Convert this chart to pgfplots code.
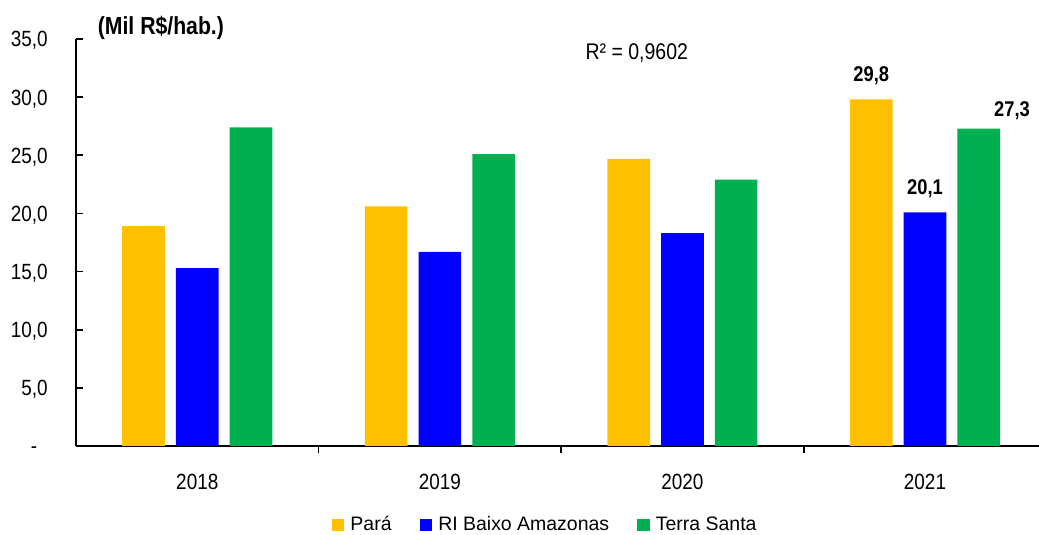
\documentclass[border=0pt]{standalone}
\usepackage{fontspec}
\setmainfont{Liberation Sans}
\newfontfamily\cf[FakeStretch=0.86]{Liberation Sans}
\usepackage{pgfplots}
\pgfplotsset{compat=1.18}
\definecolor{cpara}{HTML}{FFC000}
\definecolor{cbaixo}{HTML}{0000FF}
\definecolor{cterra}{HTML}{00B050}
\begin{document}
\fontsize{14}{17}\selectfont
\begin{tikzpicture}
\begin{axis}[
  scale only axis,
  at={(0,0)}, anchor=south west,
  width=722.25pt, height=305.25pt,
  xmin=-0.5, xmax=3.47,
  ymin=0, ymax=35,
  axis x line=bottom, axis y line=left,
  axis line style={-, line width=1.3pt, black},
  xtick={0,1,2,3},
  xticklabels={2018,2019,2020,2021},
  major x tick style={draw=none},
  minor xtick={0.5,1.5,2.5},
  minor tick length=5pt,
  minor x tick style={line width=1.3pt, black},
  xticklabel style={font=\cf\fontsize{16.5}{19}\selectfont, anchor=base, yshift=-27.75pt},
  ytick={0,5,10,15,20,25,30,35},
  yticklabels={-\phantom{0},{5,0},{10,0},{15,0},{20,0},{25,0},{30,0},{35,0}},
  yticklabel style={font=\cf\fontsize{16.5}{19}\selectfont, anchor=base east, inner sep=0pt, xshift=-21pt, yshift=-5.9pt},
  major y tick style={line width=1.3pt, black},
  tick align=inside,
  major tick length=5pt,
  ybar, bar width=32pt,
  clip=false,
  nodes near coords,
  point meta=explicit symbolic,
  nodes near coords style={font=\cf\bfseries\fontsize{16}{19}\selectfont, anchor=base, inner sep=0pt, yshift=13.5pt},
  legend style={draw=none, at={(0.5,-0.194)}, anchor=center, xshift=-9pt,
    legend columns=-1, /tikz/every even column/.append style={column sep=19pt},
    font=\fontsize{14.6}{17}\selectfont,
    nodes={inner xsep=2pt, inner ysep=0.5pt}},
  legend image code/.code={\fill[#1] (0pt,-4.5pt) rectangle (9.5pt,4.5pt);},
]
\addplot[fill=cpara, draw=none, bar shift=-40.3pt] coordinates {(0,18.9)[] (1,20.6)[] (2,24.7)[] (3,29.8)[29,8]};
\addlegendentry{\hspace{2.5pt}Pará}
\addplot[fill=cbaixo, draw=none, bar shift=0pt] coordinates {(0,15.3)[] (1,16.7)[] (2,18.3)[] (3,20.1)[20,1]};
\addlegendentry{\hspace{2.5pt}RI Baixo Amazonas}
\addplot[fill=cterra, draw=none, bar shift=40.3pt, nodes near coords style={xshift=25pt, yshift=-4.5pt}] coordinates {(0,27.4)[] (1,25.1)[] (2,22.9)[] (3,27.3)[27,3]};
\addlegendentry{\hspace{2.5pt}Terra Santa}
\node[font=\cf\bfseries\fontsize{18.5}{22}\selectfont] at (axis cs:-0.15,35.94) {(Mil R\$/hab.)};
\node[font=\cf\fontsize{17}{20}\selectfont] at (axis cs:1.812,33.8) {R² = 0,9602};
\end{axis}
\pgfresetboundingbox
\path (-57pt,-66.75pt) rectangle (722.25pt,334.5pt);
\end{tikzpicture}
\end{document}
